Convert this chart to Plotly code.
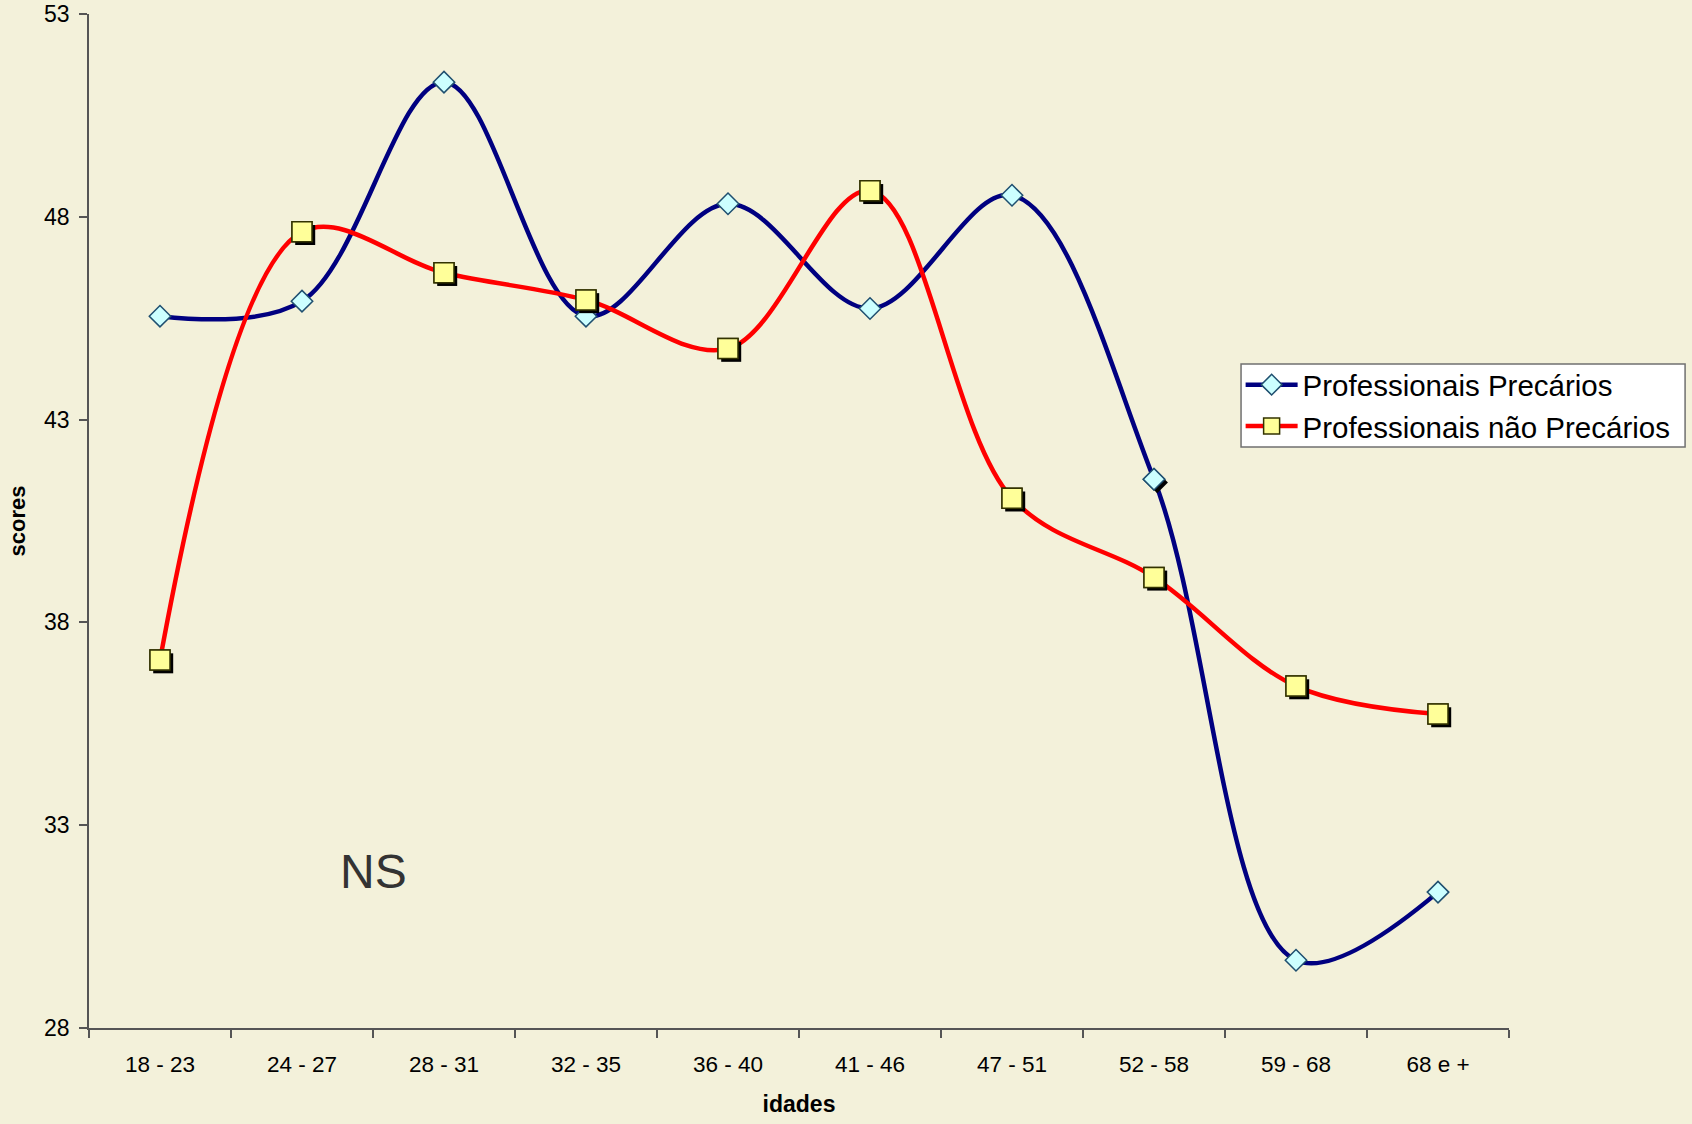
import plotly.graph_objects as go

categories = ["18 - 23", "24 - 27", "28 - 31", "32 - 35", "36 - 40",
              "41 - 46", "47 - 51", "52 - 58", "59 - 68", "68 e +"]
precarios = [45.55, 45.92, 51.32, 45.55, 48.32, 45.74, 48.53, 41.53, 29.67, 31.35]
nao_precarios = [37.07, 47.63, 46.62, 45.95, 44.75, 48.64, 41.06, 39.11, 36.43, 35.74]
y_ticks = [28, 33, 38, 43, 48, 53]

BG = "#F3F1DA"
FONT = "Liberation Sans, Arial, sans-serif"

n = len(categories)
xs = list(range(n))
boundaries = [i - 0.5 for i in range(n + 1)]

# shadow offsets (~3px) in data units
dx = 3.2 / 142.0
dy = 3.2 / 40.56

DIAMOND = dict(symbol="diamond", size=16.5, color="#CCFFFF",
               line=dict(color="#1F4F6F", width=1.5))
SQUARE = dict(symbol="square", size=20, color="#FFFF99",
              line=dict(color="#333300", width=1.5))

fig = go.Figure()

# Blue series (line + markers, legend)
fig.add_trace(go.Scatter(
    x=xs, y=precarios, name="Professionais Precários",
    mode="lines+markers",
    line=dict(color="#000080", width=4.5, shape="spline", smoothing=1.0),
    marker=DIAMOND,
))
# Blue shadow only on the 52-58 point
idx = categories.index("52 - 58")
fig.add_trace(go.Scatter(
    x=[xs[idx] + dx], y=[precarios[idx] - dy], mode="markers", showlegend=False,
    marker=dict(symbol="diamond", size=16.5, color="black", line=dict(width=0)),
    hoverinfo="skip",
))
fig.add_trace(go.Scatter(
    x=[xs[idx]], y=[precarios[idx]], mode="markers", showlegend=False,
    marker=DIAMOND, hoverinfo="skip",
))

# Red series
fig.add_trace(go.Scatter(
    x=xs, y=nao_precarios, name="Professionais não Precários",
    mode="lines+markers",
    line=dict(color="#FF0000", width=4.5, shape="spline", smoothing=1.0),
    marker=SQUARE,
))
fig.add_trace(go.Scatter(
    x=[x + dx for x in xs], y=[v - dy for v in nao_precarios],
    mode="markers", showlegend=False,
    marker=dict(symbol="square", size=20, color="black", line=dict(width=0)),
    hoverinfo="skip",
))
fig.add_trace(go.Scatter(
    x=xs, y=nao_precarios, mode="markers", showlegend=False,
    marker=SQUARE, hoverinfo="skip",
))

fig.add_annotation(x=1.5, y=31.85, xref="x", yref="y", text="NS",
                   showarrow=False, font=dict(size=48, color="#333333", family=FONT))

# legend frame
fig.add_shape(type="rect", xref="paper", yref="paper",
              x0=0.8113, x1=1.124, y0=0.573, y1=0.6548,
              fillcolor="white", line=dict(color="#707070", width=1.5),
              layer="above")

fig.update_layout(
    width=1692, height=1124,
    margin=dict(l=89, r=183, t=14, b=96),
    paper_bgcolor=BG, plot_bgcolor=BG,
    font=dict(family=FONT, color="black"),
    showlegend=True,
    legend=dict(
        x=0.811, y=0.6598, xanchor="left", yanchor="top",
        bgcolor="rgba(0,0,0,0)", borderwidth=0,
        font=dict(size=29.5, family=FONT, color="black"),
        tracegroupgap=0, itemsizing="trace", itemwidth=52,
    ),
    xaxis=dict(
        range=[-0.5, n - 0.5], automargin=False,
        tickmode="array", tickvals=xs, ticktext=categories,
        ticks="", showgrid=False, zeroline=False,
        showline=True, linecolor="#555555", linewidth=1.5,
        tickfont=dict(size=22.5, family=FONT, color="black"),
        ticklabelstandoff=15,
        minor=dict(tickmode="array", tickvals=boundaries, ticks="outside",
                   ticklen=8, tickcolor="#555555", tickwidth=1.5, showgrid=False),
        title=dict(text="<b>idades</b>", font=dict(size=23, family=FONT, color="black"),
                   standoff=20),
    ),
    yaxis=dict(
        range=[28, 53], automargin=False, tickmode="array", tickvals=y_ticks,
        ticks="outside", ticklen=8, tickcolor="#555555", tickwidth=1.5,
        showgrid=False, zeroline=False,
        showline=True, linecolor="#555555", linewidth=1.5,
        tickfont=dict(size=23, family=FONT, color="black"),
        ticklabelstandoff=5,
        title=dict(text="<b>scores</b>", font=dict(size=22, family=FONT, color="black"),
                   standoff=12),
    ),
)

fig.write_html("out.html", config={"displayModeBar": False},
               post_script="document.body.style.margin='0';document.body.style.overflow='hidden';")
